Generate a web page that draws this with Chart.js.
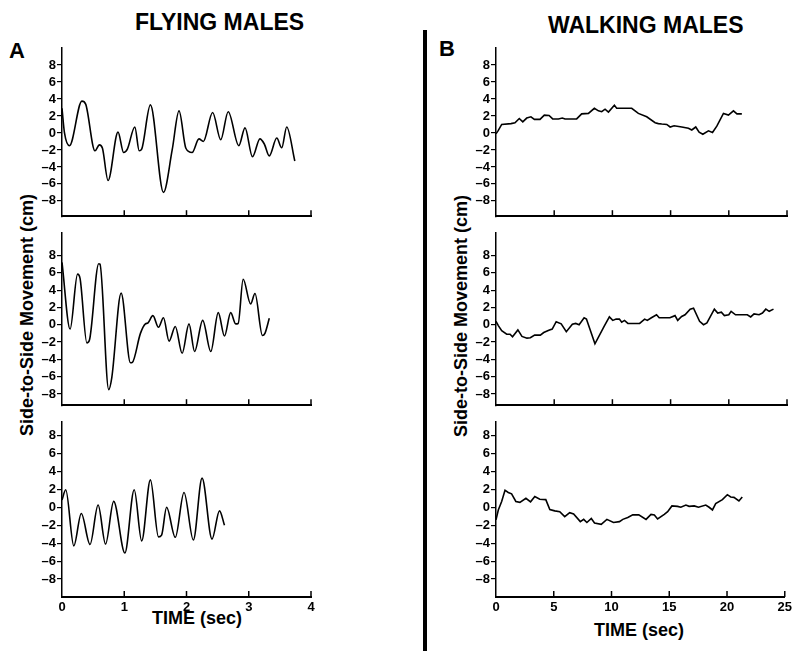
<!DOCTYPE html>
<html>
<head>
<meta charset="utf-8">
<script src="https://cdn.jsdelivr.net/npm/chart.js@4.4.1/dist/chart.umd.min.js"></script>
<style>
  html, body { margin:0; padding:0; background:#fff; }
  body { width:795px; height:651px; position:relative; overflow:hidden; font-family:"Liberation Sans", Arial, Helvetica, sans-serif; color:#000; }
  canvas { position:absolute; }
  .txt { position:absolute; white-space:nowrap; font-weight:bold; color:#000; }
  .ylab { position:absolute; white-space:nowrap; font-weight:bold; font-size:18px; transform:translate(-50%,-50%) rotate(-90deg); }
  .sep { position:absolute; background:#000; }
</style>
</head>
<body>
<div class="txt" style="left:135px; top:9px; font-size:23px;">FLYING MALES</div>
<div class="txt" style="left:548px; top:12px; font-size:23px;">WALKING MALES</div>
<div class="txt" style="left:9px; top:38px; font-size:22px;">A</div>
<div class="txt" style="left:439px; top:36px; font-size:22px;">B</div>
<div class="ylab" style="left:27px; top:315px;">Side-to-Side Movement (cm)</div>
<div class="ylab" style="left:461px; top:316px;">Side-to-Side Movement (cm)</div>
<div class="txt" style="left:152px; top:608px; font-size:18px;">TIME (sec)</div>
<div class="txt" style="left:594px; top:620px; font-size:18px;">TIME (sec)</div>
<div class="sep" style="left:423px; top:30px; width:4px; height:621px;"></div>

<canvas id="c1" width="330" height="187" style="left:0px; top:38px;"></canvas>
<canvas id="c2" width="330" height="191" style="left:0px; top:223px;"></canvas>
<canvas id="c3" width="330" height="215" style="left:0px; top:412px;"></canvas>
<canvas id="c4" width="365" height="187" style="left:430px; top:38px;"></canvas>
<canvas id="c5" width="365" height="191" style="left:430px; top:223px;"></canvas>
<canvas id="c6" width="365" height="215" style="left:430px; top:412px;"></canvas>

<script>
// ---------- DATA ----------
const yTickValues = [-8, -6, -4, -2, 0, 2, 4, 6, 8];
const flyXTicks = [0, 1, 2, 3, 4];
const walkXTicks = [0, 5, 10, 15, 20, 25];

// Flying males (time in sec, side-to-side movement in cm)
const fly1Time = [0.0,0.04,0.12,0.32,0.38,0.53,0.6,0.65,0.74,0.9,0.99,1.05,1.17,1.24,1.28,1.42,1.63,1.77,1.88,1.99,2.09,2.2,2.27,2.42,2.55,2.67,2.84,2.94,3.06,3.18,3.25,3.33,3.45,3.53,3.61,3.74];
const fly1Move = [2.9,0.0,-1.5,3.75,3.4,-2.1,-1.4,-1.8,-5.6,0.1,-2.3,-1.9,0.7,-2.1,-1.9,3.3,-7.0,-2.0,2.6,-1.8,-2.3,-0.7,-1.0,2.4,-0.8,2.5,-1.5,0.6,-2.8,-0.7,-1.3,-2.7,-0.6,-1.75,0.7,-3.3];

const fly2Time = [0.0,0.13,0.25,0.29,0.4,0.44,0.59,0.61,0.75,0.8,0.95,1.1,1.13,1.26,1.34,1.38,1.46,1.55,1.63,1.72,1.82,1.93,2.04,2.13,2.26,2.39,2.51,2.61,2.71,2.79,2.83,2.91,3.03,3.1,3.22,3.26,3.33];
const fly2Move = [7.2,-0.5,5.85,5.35,-2.1,-1.8,7.05,7.0,-7.5,-6.1,3.65,-4.4,-4.35,-1.0,0.1,0.2,1.05,-0.3,0.8,-1.9,-0.2,-3.3,0.1,-3.1,0.5,-3.1,1.4,-1.3,1.4,0.1,0.15,5.25,2.4,3.6,-1.25,-1.0,0.75];

const fly3Time = [0.0,0.06,0.19,0.31,0.45,0.58,0.7,0.83,1.01,1.16,1.28,1.42,1.55,1.6,1.68,1.82,1.96,2.11,2.25,2.41,2.53,2.61];
const fly3Move = [0.8,1.95,-4.3,-0.7,-4.15,0.25,-4.1,0.65,-5.1,1.95,-3.75,3.05,-3.3,-3.1,0.0,-3.35,1.65,-3.65,3.25,-3.55,-0.4,-2.0];

// Walking males
const walk1Time = [0,0.2,0.49,1.29,1.63,2.0,2.3,2.64,3.0,3.3,3.78,4.15,4.56,4.87,5.36,5.7,5.93,6.93,7.36,7.94,8.45,8.8,9.08,9.37,9.66,10.17,10.37,11.66,12.23,12.95,13.67,13.95,14.24,14.67,14.96,15.3,15.96,16.53,16.82,17.16,17.45,17.77,18.25,18.6,18.97,19.54,19.97,20.4,20.7,21.12];
const walk1Move = [-0.1,0.3,1.0,1.1,1.2,1.7,1.3,1.75,1.9,1.6,1.6,2.1,2.05,1.65,1.65,1.75,1.65,1.65,2.25,2.3,2.9,2.6,2.5,2.8,2.45,3.25,2.9,2.9,2.3,1.9,1.2,1.1,1.05,1.0,0.7,0.85,0.7,0.55,0.35,0.7,0.1,-0.15,0.25,0.05,0.8,2.3,2.1,2.6,2.25,2.25];

const walk2Time = [0,0.2,0.49,0.92,1.21,1.42,1.88,2.23,2.66,2.95,3.32,3.81,4.1,4.54,4.83,5.17,5.6,6.04,6.56,6.85,7.14,7.57,7.77,8.5,9.3,9.74,10.03,10.32,10.6,10.8,11.04,11.33,12.34,12.77,13.0,13.35,13.79,14.02,14.94,15.38,15.61,15.95,16.24,16.68,16.97,17.49,17.83,18.12,18.76,19.05,19.36,19.62,20.0,20.2,20.58,21.59,21.88,22.17,22.6,22.89,23.18,23.47,23.84];
const walk2Move = [0.4,-0.1,-0.7,-1.1,-1.1,-1.4,-0.6,-1.35,-1.55,-1.5,-1.2,-1.2,-0.9,-0.65,-0.5,0.35,0.1,-0.8,0.05,0.15,0.0,0.8,0.65,-2.2,-0.15,0.9,0.5,0.65,0.65,0.3,0.5,0.15,0.15,0.65,0.5,0.8,1.15,0.8,0.8,1.05,0.5,0.95,1.15,1.8,1.9,0.4,0.0,0.2,1.8,1.35,1.45,1.05,1.15,1.55,1.15,1.15,0.9,1.25,1.15,1.35,1.8,1.55,1.8];

const walk3Time = [0,0.2,0.49,0.78,1.06,1.35,1.72,2.07,2.59,2.99,3.36,3.79,4.31,4.66,5.09,5.52,5.95,6.38,6.72,7.3,7.59,7.87,8.25,8.53,9.11,9.6,10.17,10.69,10.98,11.41,11.84,12.36,12.99,13.42,13.71,13.99,14.57,14.86,15.23,15.72,16.0,16.44,16.72,17.16,17.53,18.16,18.45,18.74,19.02,19.6,20.03,20.32,20.6,21.03,21.32];
const walk3Move = [-1.4,-0.3,0.65,1.9,1.65,1.5,0.65,0.55,1.0,0.6,1.2,0.9,0.85,-0.25,-0.4,-0.5,-1.05,-0.6,-0.75,-1.6,-1.35,-1.7,-1.25,-1.75,-1.9,-1.35,-1.7,-1.6,-1.35,-1.15,-0.85,-0.85,-1.35,-0.8,-0.85,-1.3,-0.8,-0.5,0.15,0.1,0.0,0.25,0.1,0.15,0.0,0.25,0.0,-0.3,0.4,0.85,1.4,1.15,1.1,0.7,1.15];

// ---------- CHARTS ----------
Chart.defaults.color = '#000';
Chart.defaults.font.family = '"Liberation Sans", Arial, Helvetica, sans-serif';

const innerTicks = {
  id: 'innerTicks',
  afterDraw(chart) {
    const xs = chart.scales.x;
    const ctx = chart.ctx;
    const b = chart.chartArea.bottom;
    ctx.save();
    ctx.strokeStyle = '#000';
    ctx.lineWidth = 1.5;
    xs.ticks.forEach(t => {
      if (t.value === xs.min) return;
      const px = xs.getPixelForValue(t.value);
      ctx.beginPath();
      ctx.moveTo(px, b);
      ctx.lineTo(px, b - 6);
      ctx.stroke();
    });
    ctx.restore();
  }
};

function pairs(ts, vs) { return ts.map((t, i) => ({ x: t, y: vs[i] })); }

function makePanel(id, ts, vs, o) {
  new Chart(document.getElementById(id), {
    type: 'line',
    data: { datasets: [{
      data: pairs(ts, vs),
      borderColor: '#000',
      borderWidth: 1.6,
      pointRadius: 0,
      fill: false,
      cubicInterpolationMode: o.smooth ? 'monotone' : 'default',
      tension: 0
    }]},
    options: {
      responsive: false,
      animation: false,
      devicePixelRatio: 1,
      layout: { padding: { top: 10, right: o.padRight, left: 0, bottom: 0 } },
      plugins: { legend: { display: false }, tooltip: { enabled: false } },
      scales: {
        x: {
          type: 'linear',
          min: 0, max: o.xMax,
          afterBuildTicks: s => { s.ticks = o.xTicks.map(v => ({ value: v })); },
          afterFit: s => { s.height = o.showX ? 30 : 4; },
          grid: { display: false, drawTicks: false },
          border: { display: true, color: '#000', width: 2 },
          ticks: { display: o.showX, padding: 3, maxRotation: 0, font: { size: 13, weight: 'bold' }, color: '#000' }
        },
        y: {
          type: 'linear',
          min: o.yMin, max: o.yMax,
          afterBuildTicks: s => { s.ticks = yTickValues.map(v => ({ value: v })); },
          afterFit: s => { s.width = o.yWidth; },
          grid: { drawOnChartArea: false, drawTicks: true, tickLength: 5, color: '#000', lineWidth: 1.2 },
          border: { display: true, color: '#000', width: 1.5 },
          ticks: {
            padding: 1,
            font: { size: 13, weight: 'bold' },
            color: '#000',
            callback: v => (v < 0 ? '\u2013' + Math.abs(v) : String(v))
          }
        }
      }
    },
    plugins: [innerTicks]
  });
}

const leftCfg = { xMax: 4, xTicks: flyXTicks, padRight: 19, yWidth: 62, smooth: true };
const rightCfg = { xMax: 25, xTicks: walkXTicks, padRight: 8, yWidth: 66, smooth: false };

makePanel('c1', fly1Time, fly1Move, Object.assign({}, leftCfg, { yMin: -9.8, yMax: 10, showX: false }));
makePanel('c2', fly2Time, fly2Move, Object.assign({}, leftCfg, { yMin: -9.3, yMax: 10.6, showX: false }));
makePanel('c3', fly3Time, fly3Move, Object.assign({}, leftCfg, { yMin: -10, yMax: 9.5, showX: true }));
makePanel('c4', walk1Time, walk1Move, Object.assign({}, rightCfg, { yMin: -9.8, yMax: 10, showX: false }));
makePanel('c5', walk2Time, walk2Move, Object.assign({}, rightCfg, { yMin: -9.3, yMax: 10.6, showX: false }));
makePanel('c6', walk3Time, walk3Move, Object.assign({}, rightCfg, { yMin: -10, yMax: 9.5, showX: true }));
</script>
</body>
</html>
